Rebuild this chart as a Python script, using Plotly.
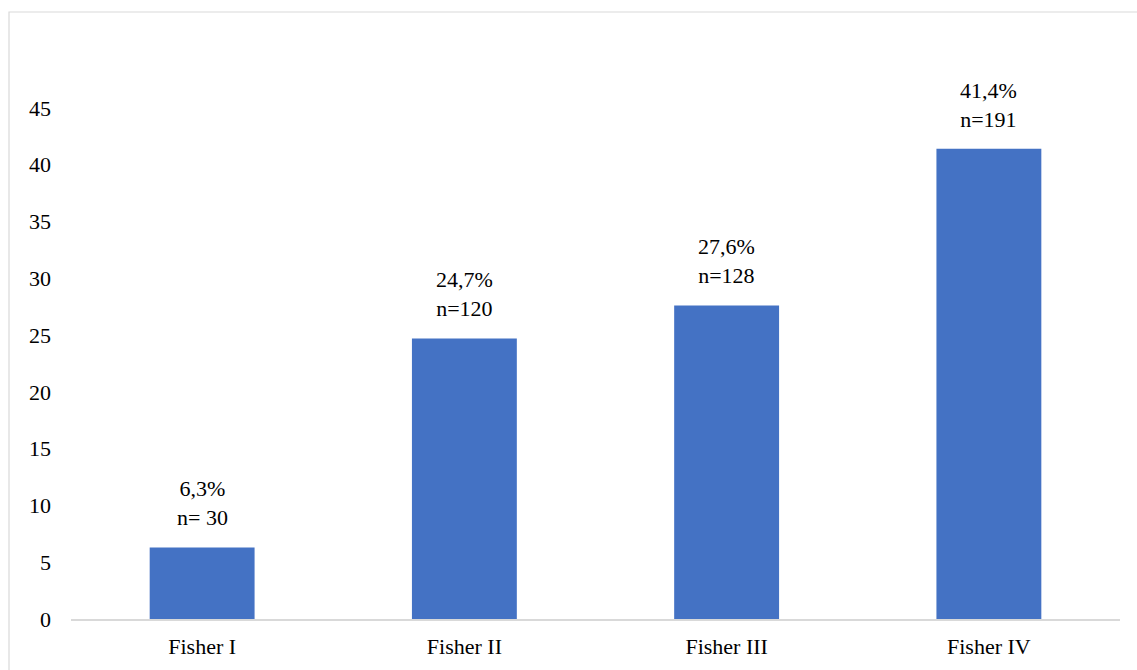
import plotly.graph_objects as go

# Fisher grade distribution
categories = ["Fisher I", "Fisher II", "Fisher III", "Fisher IV"]
percent = [6.3, 24.7, 27.6, 41.4]
counts = [30, 120, 128, 191]
percent_text = ["6,3%", "24,7%", "27,6%", "41,4%"]
count_text = ["n= 30", "n=120", "n=128", "n=191"]
y_ticks = [0, 5, 10, 15, 20, 25, 30, 35, 40, 45]

FONT = "Liberation Serif, Times New Roman, serif"
BAR = "#4472C4"
SIZE = 22

fig = go.Figure(
    go.Bar(
        x=categories,
        y=percent,
        marker=dict(color=BAR, line=dict(width=0)),
        hoverinfo="skip",
    )
)

for cat, val, p, n in zip(categories, percent, percent_text, count_text):
    fig.add_annotation(
        x=cat, y=val, xref="x", yref="y",
        text=f"{p}<br>{n}",
        showarrow=False,
        yanchor="bottom",
        yshift=15,
        font=dict(family=FONT, size=SIZE, color="#000000"),
    )

# outer chart frame
fig.add_shape(
    type="rect", xref="paper", yref="paper",
    x0=-0.0591, x1=1.02, y0=-0.1, y1=1.0687,
    line=dict(color="#d9d9d9", width=1.2),
    fillcolor="rgba(0,0,0,0)",
    layer="below",
)

fig.update_layout(
    width=1137, height=670,
    margin=dict(l=71, r=17, t=51, b=51),
    paper_bgcolor="white", plot_bgcolor="white",
    bargap=0.6,
    showlegend=False,
    font=dict(family=FONT, size=SIZE, color="#000000"),
    xaxis=dict(
        showline=True, linecolor="#d9d9d9", linewidth=1.5,
        showgrid=False, ticks="", zeroline=False,
        tickfont=dict(family=FONT, size=SIZE, color="#000000"),
        ticklabelstandoff=7,
        fixedrange=True,
    ),
    yaxis=dict(
        range=[0, 50],
        tickvals=y_ticks,
        showline=False, showgrid=False, zeroline=False, ticks="",
        tickfont=dict(family=FONT, size=SIZE, color="#000000"),
        ticklabelstandoff=19,
        fixedrange=True,
    ),
)

fig.write_html("out.html")
